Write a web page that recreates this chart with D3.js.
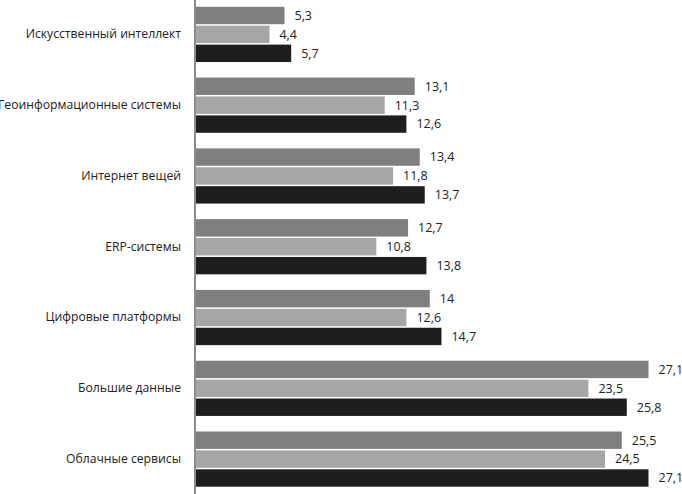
<!DOCTYPE html>
<html><head><meta charset="utf-8">
<script src="https://cdn.jsdelivr.net/npm/d3@7"></script>
<style>html,body{margin:0;padding:0;background:#fff;overflow:hidden}</style>
</head><body>
<svg id="c" width="682" height="494"></svg>
<script>
const categories = ["Искусственный интеллект","Геоинформационные системы","Интернет вещей","ERP-системы","Цифровые платформы","Большие данные","Облачные сервисы"];
const series1 = [5.3, 13.1, 13.4, 12.7, 14, 27.1, 25.5];
const series2 = [4.4, 11.3, 11.8, 10.8, 12.6, 23.5, 24.5];
const series3 = [5.7, 12.6, 13.7, 13.8, 14.7, 25.8, 27.1];
const seriesNames = ["s1","s2","s3"];
const colors = ["#7f7f7f","#a6a6a6","#1e1e1e"];

(function(){
const svg = d3.select("#c");
const left = 196, topY = -1, bottomY = 494.5;
const x = d3.scaleLinear().domain([0, 27.1]).range([left, 648.5]);
const y = d3.scaleBand().domain(categories).range([topY, bottomY]).paddingInner(0.22).paddingOuter(0.11);
const ySub = d3.scaleBand().domain(seriesNames).range([0, y.bandwidth()]).paddingInner(0.08);

const data = categories.map((c,i)=>({c, vals:[series1[i],series2[i],series3[i]]}));
const font = "'Open Sans', sans-serif";

const g = svg.selectAll("g.grp").data(data).join("g").attr("class","grp")
  .attr("transform", d=>`translate(0,${y(d.c)})`);
g.selectAll("rect").data(d=>d.vals.map((v,k)=>({v,k}))).join("rect")
  .attr("x", x(0)).attr("y", d=>ySub(seriesNames[d.k]))
  .attr("width", d=>x(d.v)-x(0)).attr("height", ySub.bandwidth())
  .attr("fill", d=>colors[d.k]);
g.selectAll("text.v").data(d=>d.vals.map((v,k)=>({v,k}))).join("text").attr("class","v")
  .attr("x", d=>x(d.v)+10).attr("y", d=>ySub(seriesNames[d.k])+ySub.bandwidth()/2)
  .attr("dy","0.35em").attr("font-family",font).attr("font-size",12.5).attr("fill","#222")
  .text(d=>String(d.v).replace(".", ","));

const yAxis = d3.axisLeft(y).tickSize(0).tickPadding(14);
const ax = svg.append("g").attr("transform",`translate(${left-1},0)`).call(yAxis);
ax.select(".domain").attr("stroke","#8c8c8c").attr("stroke-width",2).attr("d",`M0,0V494`);
ax.selectAll("text").attr("font-family",font).attr("font-size",12.2).attr("fill","#222");
})();
</script>
</body></html>
